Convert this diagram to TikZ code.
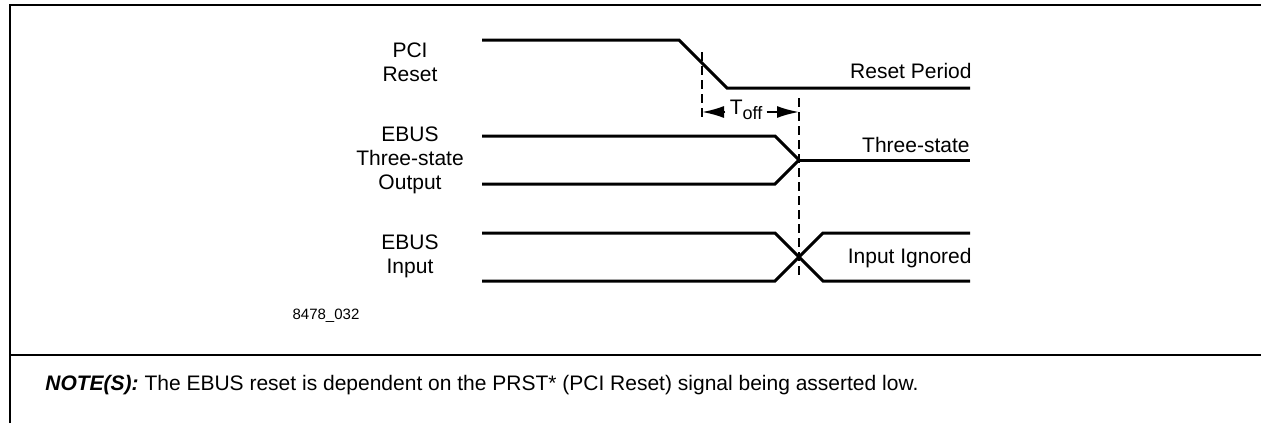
\documentclass[tikz,border=0pt]{standalone}
\usepackage{fontspec}
\setmainfont{Liberation Sans}
\usetikzlibrary{arrows.meta}
\begin{document}
\begin{tikzpicture}[x=0.5pt,y=-0.5pt,
  sig/.style={line width=1.5pt, line join=miter},
  guide/.style={line width=1pt, dash pattern=on 4.5pt off 2.5pt},
  framel/.style={line width=1pt},
  lbl/.style={font=\fontsize{10.5}{12}\selectfont, align=center, inner sep=0pt},
  rlbl/.style={font=\fontsize{10.5}{12}\selectfont, inner sep=0pt, anchor=base east},
  dimarrow/.style={line width=1pt, -{Latex[length=11pt,width=6pt]}}]
\useasboundingbox (0,0) rectangle (1261,423);
% frame
\draw[framel] (10,423) -- (10,5) -- (1261,5);
\draw[framel] (10,355) -- (1261,355);
% left labels
\node[lbl] (pci) at (410,62) {PCI\\Reset};
\node[lbl] (ebo) at (410,160) {EBUS\\Three-state\\Output};
\node[lbl] (ebi) at (410,256) {EBUS\\Input};
% right labels
\node[rlbl] (rp) at (972,78) {Reset Period};
\node[rlbl] (ts) at (970,152) {Three-state};
\node[rlbl] (ii) at (972,263) {Input Ignored};
% figure number and note
\node[font=\fontsize{7.5}{9}\selectfont, inner sep=0pt, anchor=base] (fig) at (326,319) {8478\_032};
\node[font=\fontsize{10.5}{12}\selectfont, inner sep=0pt, anchor=base west] (note) at (45,390)
  {\textbf{\textit{NOTE(S):}} The EBUS reset is dependent on the PRST* (PCI Reset) signal being asserted low.};
% waveforms
\draw[sig] (482,40) -- (679,40) -- (727,88) -- (970,88);
\draw[sig] (482,136) -- (775,136) -- (799,160) -- (775,184) -- (482,184);
\draw[sig] (799,160) -- (970,160);
\draw[sig] (482,233) -- (775,233) -- (823,281) -- (970,281);
\draw[sig] (482,281) -- (775,281) -- (823,233) -- (970,233);
% guides
\coordinate (g1t) at (702,52);
\coordinate (g1b) at (702,120);
\coordinate (g2t) at (799,98);
\coordinate (g2b) at (799,278);
\draw[guide] (g1t) -- (g1b);
\draw[guide] (g2t) -- (g2b);
% Toff
\node[font=\fontsize{10.5}{12}\selectfont, inner sep=2pt] (toff) at (746,110)
  {T\raisebox{-2.5pt}{\fontsize{9}{10}\selectfont off}};
\coordinate (d1) at (702,112);
\coordinate (d2) at (799,112);
\draw[dimarrow] (toff.west |- d1) -- (d1);
\draw[dimarrow] (toff.east |- d2) -- (d2);
\end{tikzpicture}
\end{document}
